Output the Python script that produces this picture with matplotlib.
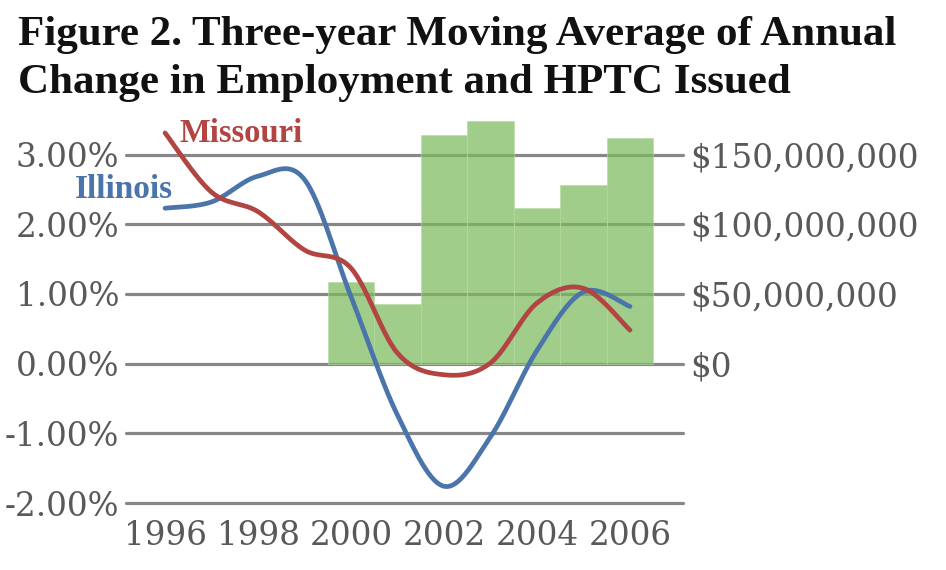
import matplotlib.pyplot as plt
import numpy as np
from matplotlib.ticker import FixedLocator, FuncFormatter

# data
years = [1996, 1997, 1998, 1999, 2000, 2001, 2002, 2003, 2004, 2005, 2006]
illinois = [2.23, 2.32, 2.69, 2.64, 0.96, -0.74, -1.76, -1.05, 0.19, 1.03, 0.82]
missouri = [3.31, 2.46, 2.18, 1.63, 1.37, 0.15, -0.16, 0.01, 0.87, 1.08, 0.48]
hptc_years = [2000, 2001, 2002, 2003, 2004, 2005, 2006]
hptc = [58.8e6, 42.8e6, 164e6, 174e6, 112e6, 128e6, 161.7e6]

title1 = 'Figure 2. Three-year Moving Average of Annual'
title2 = 'Change in Employment and HPTC Issued'

W, H = 946, 570
gray = '#595959'
gridc = '#878787'
blue = '#4A74AA'
red = '#B24442'
green = '#7DBA5E'


def smooth(xs, ys, n=30):
    # excel style smoothed line (catmull-rom bezier)
    p = np.column_stack([xs, ys]).astype(float)
    out = []
    for i in range(len(p) - 1):
        p0 = p[i - 1] if i > 0 else p[i]
        p1 = p[i]
        p2 = p[i + 1]
        p3 = p[i + 2] if i + 2 < len(p) else p[i + 1]
        c1 = p1 + (p2 - p0) / 6
        c2 = p2 - (p3 - p1) / 6
        t = np.linspace(0, 1, n)[:, None]
        seg = (1 - t)**3 * p1 + 3 * (1 - t)**2 * t * c1 + 3 * (1 - t) * t**2 * c2 + t**3 * p2
        out.append(seg if i == 0 else seg[1:])
    out = np.vstack(out)
    return out[:, 0], out[:, 1]


fig = plt.figure(figsize=(W / 100, H / 100), dpi=100)
left, right, top, bottom = 126, 683, 119.7, 503
ax = fig.add_axes([left / W, 1 - bottom / H, (right - left) / W, (bottom - top) / H])
ax2 = ax.twinx()

# bars on the right axis, behind the lines
ax2.set_zorder(1)
ax.set_zorder(2)
ax.patch.set_visible(False)

ax2.bar(hptc_years, hptc, width=1.0, color=green, alpha=0.72, linewidth=0.6,
        edgecolor='#b5dba3', zorder=3)
ax2.set_ylim(-100e6, 175e6)

for v in [-2, -1, 0, 1, 2, 3]:
    ax2.axhline(v * 50e6, color=gridc, lw=2.3, zorder=1, solid_capstyle='round', clip_on=False)

xs, ys = smooth(years, illinois)
ax.plot(xs, ys, color=blue, lw=3.4, solid_capstyle='round', zorder=4)
xs, ys = smooth(years, missouri)
ax.plot(xs, ys, color=red, lw=3.4, solid_capstyle='round', zorder=5)

ax.set_xlim(1995.16, 2007.14)
ax.set_ylim(-2, 3.5)

for a in (ax, ax2):
    for s in a.spines.values():
        s.set_visible(False)

tickfont = dict(family='DejaVu Serif', size=23.5, color=gray)
ax.yaxis.set_major_locator(FixedLocator([-2, -1, 0, 1, 2, 3]))
ax.yaxis.set_major_formatter(FuncFormatter(lambda v, p: ('%.2f%%' % v).replace('\u2212', '-')))
ax.tick_params(axis='y', length=0, pad=5)
ax.xaxis.set_major_locator(FixedLocator([1996, 1998, 2000, 2002, 2004, 2006]))
ax.tick_params(axis='x', length=0, pad=12)
for lab in ax.get_yticklabels() + ax.get_xticklabels():
    lab.set(**tickfont)

ax2.yaxis.set_major_locator(FixedLocator([0, 50e6, 100e6, 150e6]))
ax2.yaxis.set_major_formatter(FuncFormatter(lambda v, p: '${:,.0f}'.format(v)))
ax2.tick_params(axis='y', length=0, pad=5)
for lab in ax2.get_yticklabels():
    lab.set(**tickfont)

# series labels
fig.text(180 / W, 1 - 142 / H, 'Missouri', color=red, fontsize=23.5, fontweight='bold',
         family='Liberation Serif', va='baseline')
fig.text(75 / W, 1 - 198 / H, 'Illinois', color=blue, fontsize=24, fontweight='bold',
         family='Liberation Serif', va='baseline')

# title
fig.text(18 / W, 1 - 45 / H, title1, fontsize=31, fontweight='bold',
         family='Liberation Serif', color='#111111', va='baseline')
fig.text(18 / W, 1 - 93 / H, title2, fontsize=31, fontweight='bold',
         family='Liberation Serif', color='#111111', va='baseline')

fig.savefig('out.png', dpi=100)
